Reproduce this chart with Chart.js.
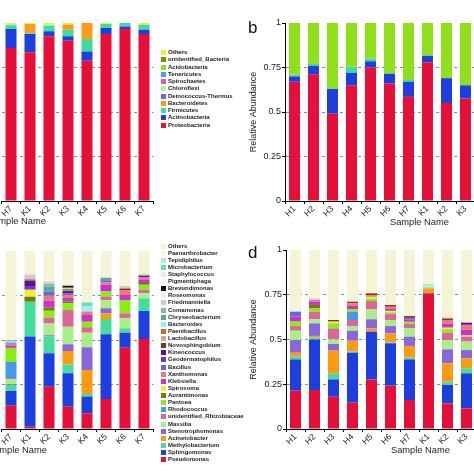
<!DOCTYPE html>
<html>
<head>
<meta charset="utf-8">
<script src="https://cdn.jsdelivr.net/npm/chart.js@4.4.0/dist/chart.umd.min.js"></script>
<style>
  body { margin: 0; width: 474px; height: 474px; overflow: hidden; position: relative; background: #fff;
         font-family: "Liberation Sans", Arial, sans-serif; color: #222; }
  canvas { position: absolute; }
  .key { position: absolute; height: 7px; line-height: 7px; font-size: 6px; font-weight: bold; white-space: nowrap; }
  .key span { display: inline-block; width: 5px; height: 5px; margin-right: 2px; vertical-align: top; margin-top: 1px; }
  .xt { position: absolute; font-size: 9.3px; line-height: 11px; white-space: nowrap; color: #222; }
  .tag { position: absolute; font-size: 17px; line-height: 17px; color: #111; }
</style>
</head>
<body>
<canvas id="chartA" width="160" height="240" style="left:0;top:0"></canvas>
<canvas id="chartB" width="236" height="240" style="left:240px;top:0"></canvas>
<canvas id="chartC" width="160" height="234" style="left:0;top:240px"></canvas>
<canvas id="chartD" width="236" height="234" style="left:240px;top:240px"></canvas>
<div class="xt" style="left:-13px;top:216px">Sample Name</div>
<div class="xt" style="left:390px;top:217px">Sample Name</div>
<div class="xt" style="left:-12px;top:445px">Sample Name</div>
<div class="xt" style="left:391px;top:445px">Sample Name</div>
<div class="tag" style="left:248px;top:19px">b</div>
<div class="tag" style="left:248px;top:244px">d</div>
<script>
// ---- panel a / b : phylum level ----
const phyla = ["Others", "unidentified_Bacteria", "Acidobacteria", "Tenericutes", "Spirochaetes", "Chloroflexi",
    "Deinococcus-Thermus", "Bacteroidetes", "Firmicutes", "Actinobacteria", "Proteobacteria"];
const phylaColors = ["#eeee33", "#7a8a1a", "#8fe01a", "#4a9ff0", "#e0609a", "#b7f0a0",
    "#7a5ee0", "#ff9a1a", "#3ddc9a", "#1d3fe0", "#e5103a"];

const samplesA = ["H7", "K1", "K2", "K3", "K4", "K5", "K6", "K7"];
const aProteobacteria = [0.86, 0.835, 0.925, 0.9, 0.788, 0.938, 0.966, 0.938];
const aActinobacteria = [0.106, 0.103, 0.028, 0.025, 0.052, 0.034, 0.014, 0.024];
const aFirmicutes = [0.022, 0.004, 0.032, 0.037, 0.07, 0.022, 0.02, 0.028];
const aBacteroidetes = [0, 0.052, 0, 0.03, 0.09, 0, 0, 0];
const aChloroflexi = [0.006, 0, 0.008, 0, 0, 0, 0, 0];
const aOthers = [0.006, 0.006, 0.007, 0.008, 0, 0.006, 0, 0.01];

const samplesB = ["H1", "H2", "H3", "H4", "H5", "H6", "H7", "K1", "K2", "K3"];
const bProteobacteria = [0.67, 0.71, 0.49, 0.65, 0.75, 0.66, 0.585, 0.78, 0.55, 0.575];
const bActinobacteria = [0.03, 0.05, 0.14, 0.07, 0.035, 0.055, 0.085, 0.035, 0.14, 0.075];
const bFirmicutes = [0.01, 0.01, 0, 0.035, 0.015, 0, 0.01, 0.005, 0, 0];
const bAcidobacteria = [0.29, 0.23, 0.37, 0.245, 0.2, 0.285, 0.32, 0.18, 0.31, 0.35];

// ---- panel c / d : genus level ----
const genera = ["Others", "Paenarthrobacter", "Tepidiphilus", "Microbacterium", "Staphylococcus", "Pigmentiphaga",
    "Brevundimonas", "Roseomonas", "Friedmanniella", "Comamonas", "Chryseobacterium", "Bacteroides",
    "Paenibacillus", "Lactobacillus", "Novosphingobium", "Kineococcus", "Geodermatophilus", "Bacillus",
    "Xanthomonas", "Klebsiella", "Spirosoma", "Aurantimonas", "Pantoea", "Rhodococcus",
    "unidentified_Rhizobiaceae", "Massilia", "Stenotrophomonas", "Acinetobacter", "Methylobacterium",
    "Sphingomonas", "Pseudomonas"];
const generaColors = ["#f6f4d6", "#f7f7f4", "#a6eed2", "#66ddbb", "#f2e6e6", "#fbf3f3",
    "#111111", "#f6eeee", "#cccccc", "#88bb99", "#55aa99", "#99eeee",
    "#cc6633", "#ccaa99", "#883322", "#551199", "#7733cc", "#6666dd",
    "#ee7777", "#cc33cc", "#eeee33", "#777711", "#88ee11", "#4499ee",
    "#dd6699", "#aaee88", "#8866dd", "#ff9911", "#44dd99",
    "#1d3fe0", "#e5103a"];

const samplesC = ["H7", "K1", "K2", "K3", "K4", "K5", "K6", "K7"];
const cPseudomonas = [0.131, 0.013, 0.238, 0.125, 0.088, 0.169, 0.457, 0.506];
const cSphingomonas = [0.082, 0.506, 0.187, 0.188, 0.094, 0.363, 0.084, 0.157];
const cMethylobacterium = [0.034, 0.196, 0.094, 0.05, 0.015, 0.086, 0.025, 0.071];
const cAcinetobacter = [0, 0, 0, 0.075, 0.134, 0.032, 0, 0];
const cStenotrophomonas = [0.005, 0, 0.008, 0.038, 0.128, 0.028, 0, 0];
const cMassilia = [0.027, 0, 0.066, 0.099, 0.082, 0.047, 0.056, 0.028];
const cRhizobiaceae = [0.008, 0, 0.034, 0.094, 0.03, 0.02, 0.028, 0.02];
const cRhodococcus = [0.09, 0, 0, 0, 0, 0, 0, 0];
const cPantoea = [0.075, 0, 0.037, 0.037, 0.032, 0.028, 0.075, 0.028];
const cAurantimonas = [0.005, 0.028, 0.019, 0.01, 0, 0, 0, 0.01];
const cSpirosoma = [0, 0.04, 0, 0, 0, 0, 0, 0];
const cKlebsiella = [0.012, 0, 0.037, 0.02, 0.037, 0.037, 0.028, 0.02];
const cXanthomonas = [0.01, 0, 0.028, 0.015, 0.02, 0.015, 0.028, 0.012];
const cBacillus = [0.005, 0, 0.024, 0.01, 0, 0.01, 0, 0];
const cGeodermatophilus = [0, 0.02, 0, 0, 0, 0, 0, 0];
const cKineococcus = [0, 0.03, 0, 0.008, 0, 0, 0, 0.008];
const cNovosphingobium = [0, 0, 0, 0.008, 0, 0, 0.008, 0];
const cPaenibacillus = [0, 0.008, 0, 0, 0, 0, 0, 0];
const cBacteroides = [0.008, 0, 0, 0, 0.03, 0, 0, 0];
const cChryseobacterium = [0.004, 0, 0.028, 0.01, 0, 0.015, 0, 0];
const cComamonas = [0, 0, 0.014, 0, 0, 0, 0, 0.006];
const cFriedmanniella = [0, 0.025, 0.014, 0.006, 0, 0, 0.014, 0.005];
const cBrevundimonas = [0, 0, 0, 0.012, 0, 0, 0, 0];
const cStaphylococcus = [0, 0.014, 0, 0, 0, 0, 0, 0];
const cMicrobacterium = [0.004, 0, 0, 0, 0.02, 0, 0, 0];
const cOthers = [0.5, 0.12, 0.172, 0.195, 0.29, 0.15, 0.197, 0.129];

const samplesD = ["H1", "H2", "H3", "H4", "H5", "H6", "H7", "K1", "K2", "K3"];
const dPseudomonas = [0.214, 0.218, 0.18, 0.147, 0.277, 0.242, 0.162, 0.754, 0.143, 0.115];
const dSphingomonas = [0.175, 0.282, 0.097, 0.279, 0.267, 0.237, 0.227, 0.004, 0.103, 0.196];
const dMethylobacterium = [0.015, 0.01, 0.034, 0.007, 0, 0.005, 0.01, 0, 0.018, 0.028];
const dAcinetobacter = [0.022, 0.01, 0.127, 0.06, 0.018, 0.05, 0.065, 0.028, 0.103, 0.056];
const dStenotrophomonas = [0.071, 0.07, 0.037, 0.056, 0.051, 0.041, 0.052, 0, 0.078, 0.046];
const dMassilia = [0.052, 0.023, 0.025, 0.026, 0.055, 0.034, 0.046, 0.009, 0.052, 0.047];
const dRhizobiaceae = [0.026, 0.042, 0.062, 0.034, 0.047, 0.033, 0.025, 0, 0.041, 0.028];
const dRhodococcus = [0, 0, 0, 0.046, 0, 0, 0, 0, 0, 0];
const dPantoea = [0.025, 0.018, 0.028, 0.015, 0.013, 0.01, 0.012, 0, 0.02, 0];
const dAurantimonas = [0, 0.02, 0, 0, 0, 0, 0, 0, 0, 0];
const dSpirosoma = [0, 0, 0.01, 0, 0.01, 0.008, 0, 0, 0.008, 0.007];
const dKlebsiella = [0.028, 0.019, 0, 0.018, 0, 0.013, 0.012, 0, 0.023, 0.031];
const dXanthomonas = [0, 0.01, 0, 0.015, 0.01, 0.01, 0, 0, 0.02, 0.028];
const dBacillus = [0.027, 0, 0, 0, 0, 0, 0.01, 0, 0, 0];
const dKineococcus = [0, 0, 0, 0, 0, 0, 0, 0, 0, 0.012];
const dNovosphingobium = [0, 0, 0.009, 0.008, 0.01, 0.01, 0.01, 0, 0.008, 0];
const dBacteroides = [0.004, 0.008, 0, 0, 0, 0, 0, 0.015, 0, 0];
const dFriedmanniella = [0, 0, 0, 0, 0, 0, 0, 0, 0.007, 0];
const dOthers = [0.341, 0.27, 0.391, 0.289, 0.242, 0.307, 0.369, 0.19, 0.376, 0.406];

Chart.defaults.font.family = '"Liberation Sans", Arial, sans-serif';
Chart.defaults.color = "#222";
Chart.defaults.animation = false;

function colorOf(name, names, colors) {
    return colors[names.indexOf(name)];
}

// series given bottom -> top
function toDatasets(series, names, colors) {
    return series.map(function (s) {
        return {
            label: s[0],
            data: s[1],
            backgroundColor: colorOf(s[0], names, colors),
            borderWidth: 0,
            barPercentage: 0.58,
            categoryPercentage: 1
        };
    });
}

function stackedBars(id, labels, datasets, box) {
    new Chart(document.getElementById(id), {
        type: "bar",
        data: { labels: labels, datasets: datasets },
        options: {
            responsive: false,
            layout: { padding: { left: box.left, top: box.top, right: box.right, bottom: 0 } },
            plugins: { legend: { display: false }, tooltip: { enabled: false } },
            scales: {
                x: {
                    stacked: true,
                    afterFit: function (scale) { scale.height = box.xHeight; },
                    ticks: { minRotation: 45, maxRotation: 45, autoSkip: false, padding: 0, font: { size: 8.5 } },
                    grid: { drawOnChartArea: false, tickLength: 3, color: "#000" },
                    border: { color: "#000", width: 1 }
                },
                y: {
                    stacked: true,
                    min: 0,
                    max: 1,
                    afterFit: function (scale) { scale.width = box.yWidth; },
                    ticks: {
                        display: box.showY,
                        stepSize: 0.25,
                        padding: 1,
                        font: { size: 9 },
                        callback: function (v) { return String(v); }
                    },
                    grid: {
                        color: function (c) {
                            var v = c.tick ? c.tick.value : 0;
                            return v > 0.01 && v < 0.99 ? "#8c8c8c" : "rgba(0,0,0,0)";
                        },
                        drawTicks: box.showY,
                        tickLength: 3,
                        tickColor: "#000"
                    },
                    border: { display: box.showY, color: "#000", width: 1, dash: [3, 3] },
                    title: {
                        display: box.showY,
                        text: "Relative Abundance",
                        font: { size: 9 },
                        padding: { top: 8, bottom: 0 }
                    }
                }
            }
        }
    });
}

stackedBars("chartA", samplesA, toDatasets([
    ["Proteobacteria", aProteobacteria],
    ["Actinobacteria", aActinobacteria],
    ["Firmicutes", aFirmicutes],
    ["Bacteroidetes", aBacteroidetes],
    ["Chloroflexi", aChloroflexi],
    ["Others", aOthers]
], phyla, phylaColors), { left: 1.5, top: 23, right: 6.5, xHeight: 39, yWidth: 0, showY: false });

stackedBars("chartB", samplesB, toDatasets([
    ["Proteobacteria", bProteobacteria],
    ["Actinobacteria", bActinobacteria],
    ["Firmicutes", bFirmicutes],
    ["Acidobacteria", bAcidobacteria]
], phyla, phylaColors), { left: 0, top: 23, right: 1, xHeight: 39, yWidth: 45, showY: true });

stackedBars("chartC", samplesC, toDatasets([
    ["Pseudomonas", cPseudomonas],
    ["Sphingomonas", cSphingomonas],
    ["Methylobacterium", cMethylobacterium],
    ["Acinetobacter", cAcinetobacter],
    ["Stenotrophomonas", cStenotrophomonas],
    ["Massilia", cMassilia],
    ["unidentified_Rhizobiaceae", cRhizobiaceae],
    ["Rhodococcus", cRhodococcus],
    ["Pantoea", cPantoea],
    ["Aurantimonas", cAurantimonas],
    ["Spirosoma", cSpirosoma],
    ["Klebsiella", cKlebsiella],
    ["Xanthomonas", cXanthomonas],
    ["Bacillus", cBacillus],
    ["Geodermatophilus", cGeodermatophilus],
    ["Kineococcus", cKineococcus],
    ["Novosphingobium", cNovosphingobium],
    ["Paenibacillus", cPaenibacillus],
    ["Bacteroides", cBacteroides],
    ["Chryseobacterium", cChryseobacterium],
    ["Comamonas", cComamonas],
    ["Friedmanniella", cFriedmanniella],
    ["Brevundimonas", cBrevundimonas],
    ["Staphylococcus", cStaphylococcus],
    ["Microbacterium", cMicrobacterium],
    ["Others", cOthers]
], genera, generaColors), { left: 1.5, top: 11, right: 6.5, xHeight: 45, yWidth: 0, showY: false });

stackedBars("chartD", samplesD, toDatasets([
    ["Pseudomonas", dPseudomonas],
    ["Sphingomonas", dSphingomonas],
    ["Methylobacterium", dMethylobacterium],
    ["Acinetobacter", dAcinetobacter],
    ["Stenotrophomonas", dStenotrophomonas],
    ["Massilia", dMassilia],
    ["unidentified_Rhizobiaceae", dRhizobiaceae],
    ["Rhodococcus", dRhodococcus],
    ["Pantoea", dPantoea],
    ["Aurantimonas", dAurantimonas],
    ["Spirosoma", dSpirosoma],
    ["Klebsiella", dKlebsiella],
    ["Xanthomonas", dXanthomonas],
    ["Bacillus", dBacillus],
    ["Kineococcus", dKineococcus],
    ["Novosphingobium", dNovosphingobium],
    ["Bacteroides", dBacteroides],
    ["Friedmanniella", dFriedmanniella],
    ["Others", dOthers]
], genera, generaColors), { left: 0, top: 10, right: 0, xHeight: 45, yWidth: 46, showY: true });

// legends beside panels a and c
function drawLegend(names, colors, left, firstY, step) {
    names.forEach(function (name, i) {
        var row = document.createElement("div");
        row.className = "key";
        row.style.left = left + "px";
        row.style.top = (firstY + i * step - 3.5) + "px";
        row.innerHTML = '<span style="background:' + colors[i] + '"></span>' + name;
        document.body.appendChild(row);
    });
}
drawLegend(phyla, phylaColors, 161, 52.7, 7.23);
drawLegend(genera, generaColors, 161, 246, 7.12);
</script>
</body>
</html>
